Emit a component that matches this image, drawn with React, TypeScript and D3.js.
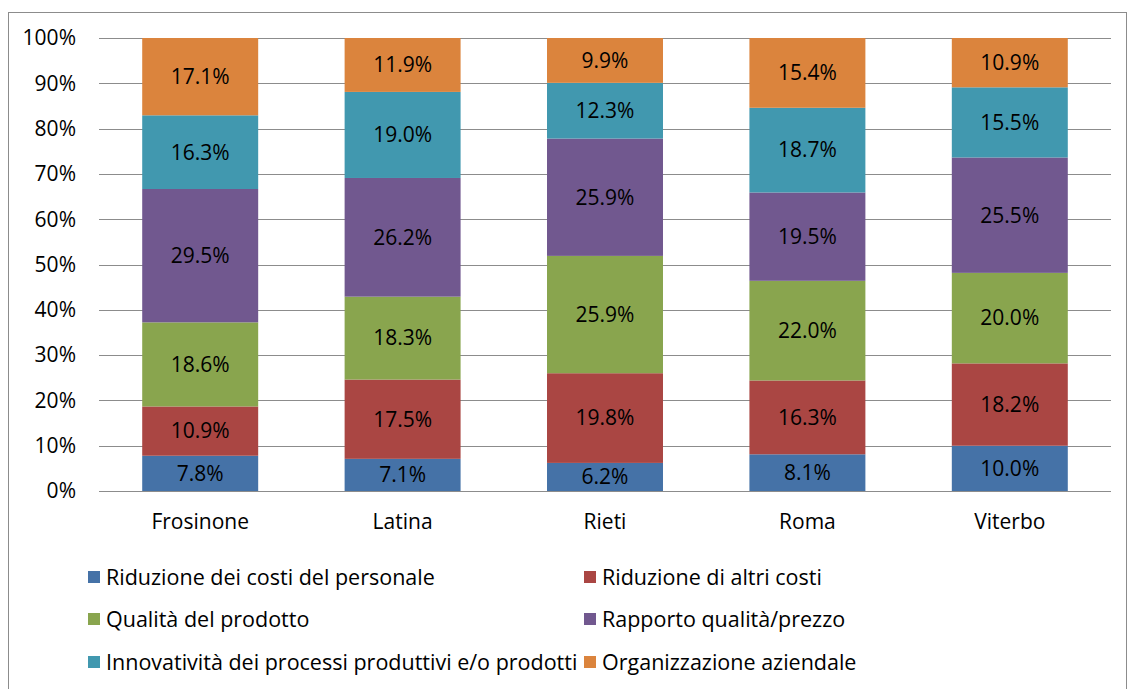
import React from "react";
import * as d3 from "d3";

const categories = ["Frosinone", "Latina", "Rieti", "Roma", "Viterbo"];
const seriesNames = [
  "Riduzione dei costi del personale",
  "Riduzione di altri costi",
  "Qualità del prodotto",
  "Rapporto qualità/prezzo",
  "Innovatività dei processi produttivi e/o prodotti",
  "Organizzazione aziendale",
];
const personale = [7.8, 7.1, 6.2, 8.1, 10.0];
const altriCosti = [10.9, 17.5, 19.8, 16.3, 18.2];
const qualita = [18.6, 18.3, 25.9, 22.0, 20.0];
const rapporto = [29.5, 26.2, 25.9, 19.5, 25.5];
const innovativita = [16.3, 19.0, 12.3, 18.7, 15.5];
const organizzazione = [17.1, 11.9, 9.9, 15.4, 10.9];
const yTicks = [0, 10, 20, 30, 40, 50, 60, 70, 80, 90, 100];
const colors = ["#4572A7", "#AA4643", "#89A54E", "#71588F", "#4198AF", "#DB843D"];

const allSeries = [personale, altriCosti, qualita, rapporto, innovativita, organizzazione];

export default function App() {
  const W = 1128, H = 689;
  const left = 99, right = 1111, top = 38, bottom = 491;
  const x = d3.scaleBand().domain(categories).range([left, right]).paddingInner(0.427).paddingOuter(0.2135);
  const y = d3.scaleLinear().domain([0, 100]).range([bottom, top]);
  const font = "'Open Sans', sans-serif";
  const fs = 21;
  const lfs = 21.5;

  const rows = categories.map((c, i) => {
    const obj: any = { cat: c };
    const total = d3.sum(allSeries, (s) => s[i]);
    allSeries.forEach((s, k) => (obj["s" + k] = (s[i] / total) * 100));
    return obj;
  });
  const stack = d3.stack<any>().keys(allSeries.map((_, k) => "s" + k));
  const stacked = stack(rows);

  const legendPos = [
    [88, 577], [584, 577],
    [88, 619], [584, 619],
    [88, 662], [584, 662],
  ];

  return (
    <svg width={W} height={H} style={{ position: "absolute", left: 0, top: 0 }}>
      <rect x={8.5} y={12.5} width={1118} height={700} fill="white" stroke="#8c8c8c" strokeWidth={1} />
      {yTicks.map((t) => (
        <g key={t}>
          <line x1={left} x2={right} y1={Math.round(y(t)) + 0.5} y2={Math.round(y(t)) + 0.5} stroke="#8c8c8c" strokeWidth={1.2} />
          <text x={76} y={y(t)} dy="0.35em" textAnchor="end" fontFamily={font} fontSize={fs} fill="#000">
            {t}%
          </text>
        </g>
      ))}
      {stacked.map((layer, k) =>
        layer.map((d, i) => {
          const cat = categories[i];
          const y0 = y(d[0]);
          const y1 = y(d[1]);
          return (
            <g key={k + "-" + i}>
              <rect x={x(cat)!} y={y1} width={x.bandwidth()} height={y0 - y1} fill={colors[k]} />
              <text
                x={x(cat)! + x.bandwidth() / 2}
                y={(y0 + y1) / 2}
                dy="0.35em"
                textAnchor="middle"
                fontFamily={font}
                fontSize={fs}
                fill="#000"
              >
                {allSeries[k][i].toFixed(1)}%
              </text>
            </g>
          );
        })
      )}
      {categories.map((c) => (
        <text key={c} x={x(c)! + x.bandwidth() / 2} y={522} dy="0.35em" textAnchor="middle" fontFamily={font} fontSize={fs} fill="#000">
          {c}
        </text>
      ))}
      {seriesNames.map((n, k) => (
        <g key={n}>
          <rect x={legendPos[k][0]} y={legendPos[k][1] - 6} width={12} height={12} fill={colors[k]} />
          <text x={legendPos[k][0] + 18} y={legendPos[k][1]} dy="0.35em" fontFamily={font} fontSize={lfs} fill="#000">
            {n}
          </text>
        </g>
      ))}
    </svg>
  );
}
